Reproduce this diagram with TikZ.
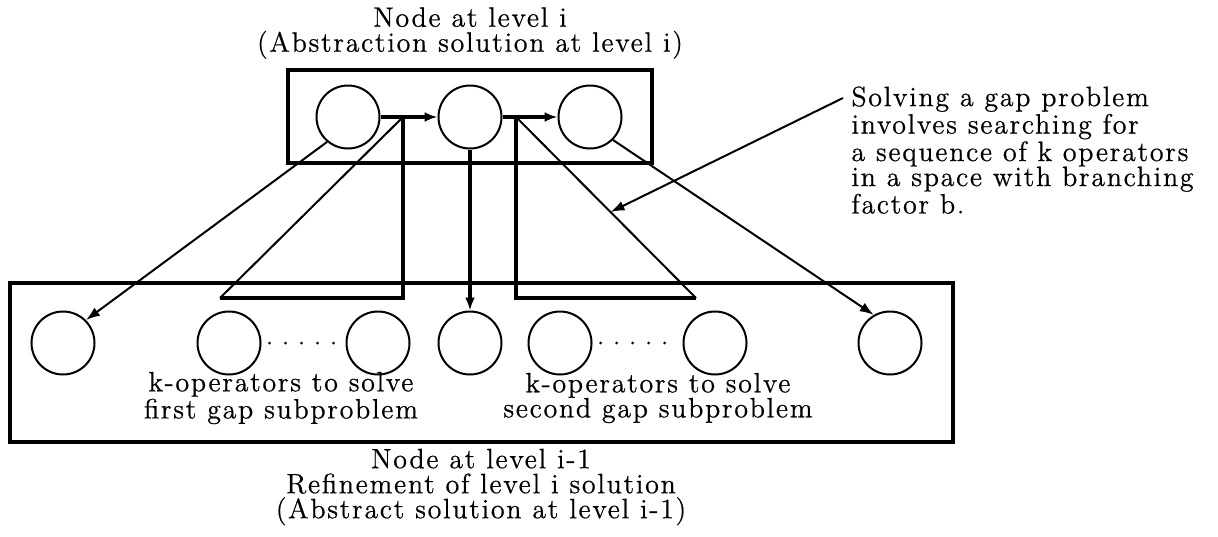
\documentclass[tikz,border=0pt]{standalone}
\usepackage{fontspec}
\setmainfont{Latin Modern Roman}[LetterSpace=6, FakeBold=0.6]
\usetikzlibrary{positioning,arrows.meta,calc}

\begin{document}
\begin{tikzpicture}[x=0.5pt, y=-0.5pt,
  state/.style={circle, draw=black, line width=1pt, minimum size=31.5pt, inner sep=0pt},
  frame/.style={draw=black, line width=1.7pt},
  heavy arrow/.style={-{Latex[length=6.5pt,width=5pt]}, line width=1.7pt},
  light arrow/.style={-{Latex[length=7pt,width=5pt]}, line width=1pt},
  heavy line/.style={line width=1.7pt},
  light line/.style={line width=1pt},
  dot row/.style={line width=1.5pt, line cap=round, dash pattern=on 0pt off 8pt, shorten <=4pt, shorten >=2pt},
  caption/.style={font=\fontsize{14}{12.5}\selectfont, align=center, inner sep=0pt}
]
\useasboundingbox (0,0) rectangle (1218,536);

\draw[frame] (288,70) rectangle (652,163);
\draw[frame] (10,283) rectangle (953,442);

\node[state] (t1) at (348,117) {};
\node[state] (t2) at (470,117) {};
\node[state] (t3) at (590,117) {};

\node[state] (b1) at (63,343) {};
\node[state] (b2) at (229,343) {};
\node[state] (b3) at (378,343) {};
\node[state] (b4) at (470,343) {};
\node[state] (b5) at (560,343) {};
\node[state] (b6) at (715,343) {};
\node[state] (b7) at (890,343) {};

\draw[heavy arrow] (t1) -- (t2);
\draw[heavy arrow] (t2) -- (t3);
\draw[heavy arrow] (t2) -- (b4);
\draw[light arrow] (t1.-130) -- (b1.45);
\draw[light arrow] (t3.-45) -- (b7.120);

\coordinate (apexA) at (403,117);
\coordinate (footA) at (403,298);
\coordinate (tipA) at (220,298);
\draw[heavy line] (apexA) -- (footA) -- (tipA);
\draw[light line] (tipA) -- (apexA);

\coordinate (apexB) at (516,117);
\coordinate (footB) at (516,298);
\coordinate (tipB) at (696,298);
\draw[heavy line] (apexB) -- (footB) -- (tipB);
\draw[light line] (tipB) -- (apexB);

\draw[dot row] (b2.east) -- (b3.west);
\draw[dot row] (b5.east) -- (b6.west);

\node[caption] (toplabel) at (470,33) {Node at level i\\(Abstraction solution at level i)};
\node[caption] (botlabel) at (481,487) {Node at level i-1\\Refinement of level i solution\\(Abstract solution at level i-1)};
\node[caption] (firstgap) at (281,398) {k-operators to solve\\first gap subproblem};
\node[caption] (secondgap) at (658,398) {k-operators to solve\\second gap subproblem};
\node[caption, align=left, anchor=north west] (gapnote) at (851,86) {Solving a gap problem\\involves searching for\\a sequence of k operators\\in a space with branching\\factor b.};

\coordinate (noteTail) at (843,98);
\coordinate (notePoint) at ($(apexB)!0.525!(tipB)$);
\draw[light arrow] (noteTail) -- (notePoint);
\end{tikzpicture}
\end{document}
